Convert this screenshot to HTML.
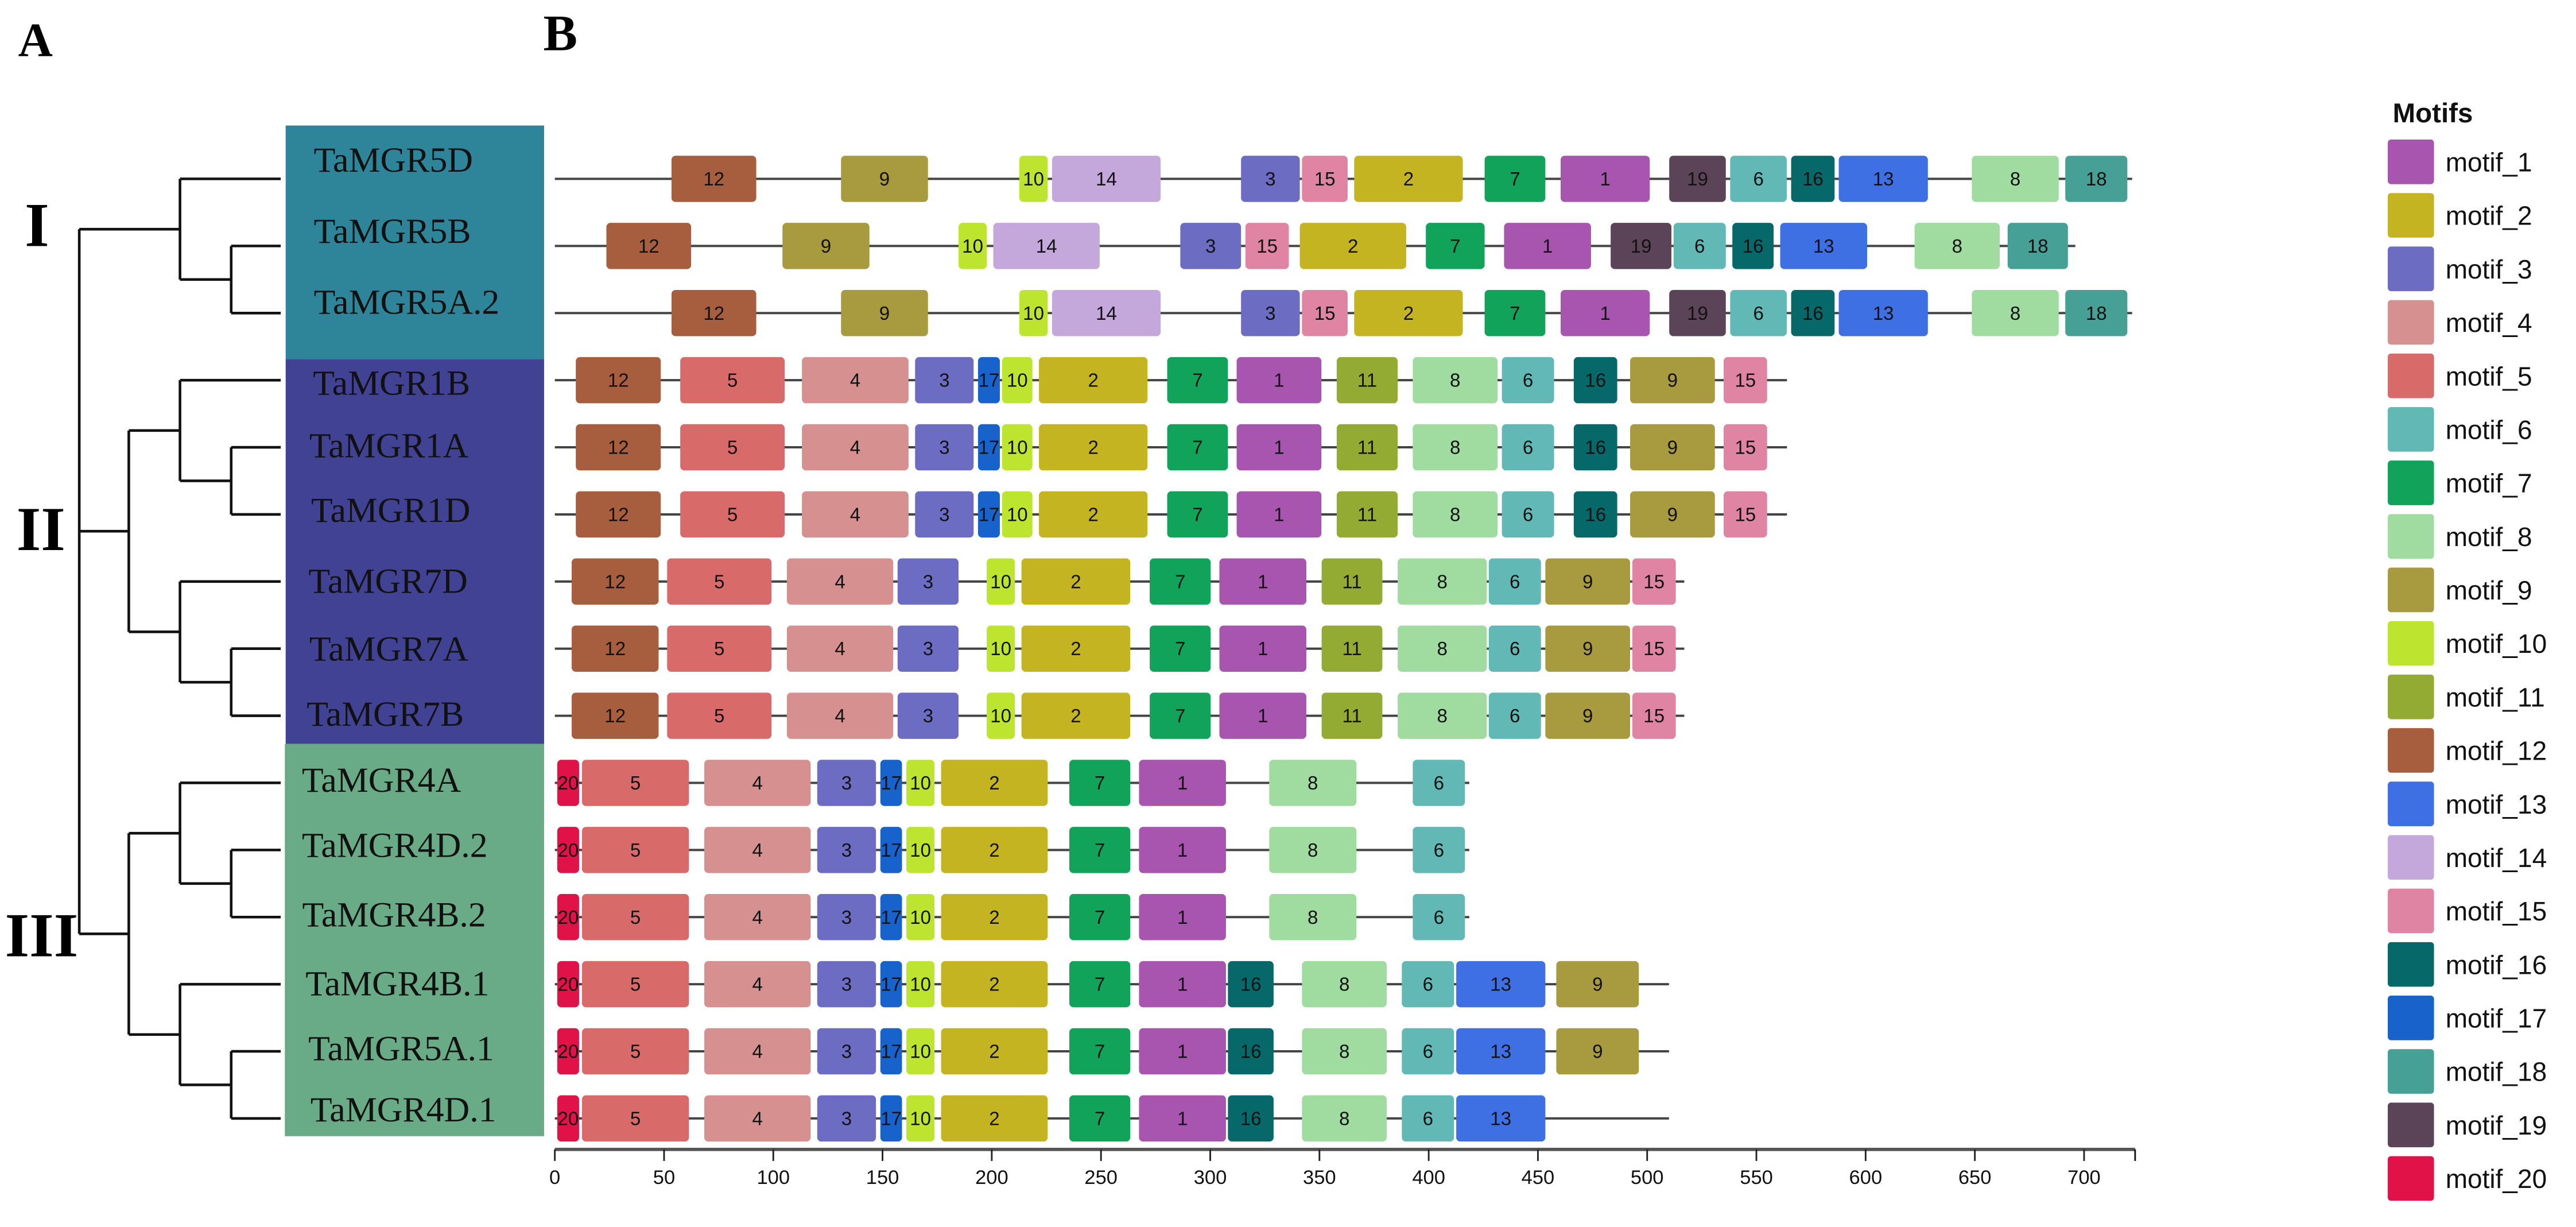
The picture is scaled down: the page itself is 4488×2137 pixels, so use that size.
<!DOCTYPE html>
<html><head><meta charset="utf-8"><style>
html,body{margin:0;padding:0;background:#fff;}
svg{display:block;}
</style></head><body>
<svg id="chart" width="4488" height="2137" viewBox="0 0 1560 743" preserveAspectRatio="none" xmlns="http://www.w3.org/2000/svg">
<text x="11" y="34" font-family="Liberation Serif, serif" font-weight="bold" font-size="29">A</text>
<text x="329" y="30.5" font-family="Liberation Serif, serif" font-weight="bold" font-size="31">B</text>
<rect x="173" y="76" width="156.5" height="141.5" fill="#2e8599"/>
<rect x="173" y="217.5" width="156.5" height="233" fill="#414294"/>
<rect x="172.5" y="450.5" width="157" height="237.5" fill="#6aab87"/>
<text x="15" y="149" font-family="Liberation Serif, serif" font-weight="bold" font-size="38">I</text>
<text x="10" y="333" font-family="Liberation Serif, serif" font-weight="bold" font-size="38">II</text>
<text x="3" y="579" font-family="Liberation Serif, serif" font-weight="bold" font-size="38">III</text>
<g id="tree" stroke="#111" stroke-width="1.6" fill="none"></g>
<g id="rows"></g>
<g id="axis"></g>
<g id="legend"></g>
</svg>
<script>
const geneNames = ["TaMGR5D","TaMGR5B","TaMGR5A.2","TaMGR1B","TaMGR1A","TaMGR1D","TaMGR7D","TaMGR7A","TaMGR7B","TaMGR4A","TaMGR4D.2","TaMGR4B.2","TaMGR4B.1","TaMGR5A.1","TaMGR4D.1"];
const geneLengths = [722,696,722,564,564,564,517,517,517,418.6,418.6,418.6,510,510,510];
const motifsI = [[12,53.4,92.2],[9,131,170.8],[10,212.6,225.6],[14,227.6,277.3],[3,314.1,341],[15,342,362.9],[2,365.9,415.6],[7,425.6,453.4],[1,460.4,501.2],[19,510.1,536],[6,538,563.9],[16,565.9,585.8],[13,587.7,628.5],[8,648.6,688.4],[18,691.4,719.8]];
const motifs5B = [[12,23.6,62.4],[9,104.2,144],[10,184.8,197.7],[14,200.7,249.4],[3,286.3,314.1],[15,316.1,336],[2,341,389.7],[7,398.7,425.6],[1,434.5,474.3],[19,483.3,511.1],[6,512.1,536],[16,539,557.9],[13,560.9,600.7],[8,622.4,661.4],[18,665,692.6]];
const motifsMGR1 = [[12,9.6,48.5],[5,57.4,105.2],[4,113.1,161.9],[3,164.9,191.7],[17,193.7,203.7],[10,204.7,218.6],[2,221.6,271.3],[7,280.3,308.1],[1,312.1,350.9],[11,357.9,385.8],[8,392.7,431.5],[6,433.5,457.4],[16,466.4,486.3],[9,492.2,531],[15,535,554.9]];
const motifsMGR7 = [[12,7.7,47.5],[5,51.4,99.2],[4,106.2,154.9],[3,156.9,184.8],[10,197.7,210.6],[2,213.6,263.4],[7,272.3,300.2],[1,304.2,344],[11,351,378.8],[8,385.8,426.6],[6,427.5,451.4],[9,453.4,492.2],[15,493.2,513.1]];
const motifsMGR4a = [[20,1.1,11.1],[5,12.4,61.4],[4,68.4,117.1],[3,120.1,147],[17,149,158.9],[10,160.9,173.8],[2,176.8,225.6],[7,235.5,263.4],[1,267.4,307.2],[8,327,366.9],[6,392.7,416.6]];
const motifsMGR4b = [[20,1.1,11.1],[5,12.4,61.4],[4,68.4,117.1],[3,120.1,147],[17,149,158.9],[10,160.9,173.8],[2,176.8,225.6],[7,235.5,263.4],[1,267.4,307.2],[16,308.1,329],[8,342,380.8],[6,387.7,411.6],[13,412.6,453.4],[9,458.4,496.2]];
const motifsMGR4D1 = [[20,1.1,11.1],[5,12.4,61.4],[4,68.4,117.1],[3,120.1,147],[17,149,158.9],[10,160.9,173.8],[2,176.8,225.6],[7,235.5,263.4],[1,267.4,307.2],[16,308.1,329],[8,342,380.8],[6,387.7,411.6],[13,412.6,453.4]];
const rowMotifs = [motifsI,motifs5B,motifsI,motifsMGR1,motifsMGR1,motifsMGR1,motifsMGR7,motifsMGR7,motifsMGR7,motifsMGR4a,motifsMGR4a,motifsMGR4a,motifsMGR4b,motifsMGR4b,motifsMGR4D1];
const xTicks = [0,50,100,150,200,250,300,350,400,450,500,550,600,650,700];
const motifColors = ["#a855b0","#c4b422","#6b6cc2","#d69090","#d96a6a","#62b8b5","#12a35b","#a0dca0","#a89a3e","#bde52f","#93ab33","#a65e3f","#3e6fe3","#c4a8dc","#e084a4","#066868","#1862cc","#47a096","#5c4458","#e01248"];
const legendLabels = ["motif_1","motif_2","motif_3","motif_4","motif_5","motif_6","motif_7","motif_8","motif_9","motif_10","motif_11","motif_12","motif_13","motif_14","motif_15","motif_16","motif_17","motif_18","motif_19","motif_20"];

const NS="http://www.w3.org/2000/svg";
const X = v => 336 + v*1.323;
const rowY = i => 108.3 + i*40.64;
function mk(tag, attrs, parent){const e=document.createElementNS(NS,tag);for(const k in attrs)e.setAttribute(k,attrs[k]);parent.appendChild(e);return e;}

const tree=document.getElementById('tree');
const segs=[];
function H(x1,x2,y){segs.push(`M${x1},${y}H${x2}`);}
function V(x,y1,y2){segs.push(`M${x},${y1}V${y2}`);}
const ly=[0,1,2,3,4,5,6,7,8,9,10,11,12,13,14].map(rowY);
H(109,170,ly[0]); H(140,170,ly[1]); H(140,170,ly[2]); V(140,ly[1],ly[2]);
const m12=(ly[1]+ly[2])/2; H(109,140,m12); V(109,ly[0],m12);
const gI=(ly[0]+m12)/2; H(48,109,gI);
function trio(a,b,c){H(109,170,a);H(140,170,b);H(140,170,c);V(140,b,c);const m=(b+c)/2;H(109,140,m);V(109,a,m);return (a+m)/2;}
const c1=trio(ly[3],ly[4],ly[5]); const c7=trio(ly[6],ly[7],ly[8]);
H(78,109,c1);H(78,109,c7);V(78,c1,c7); const gII=(c1+c7)/2; H(48,78,gII);
const c4a=trio(ly[9],ly[10],ly[11]); const c4b=trio(ly[12],ly[13],ly[14]);
H(78,109,c4a);H(78,109,c4b);V(78,c4a,c4b); const gIII=(c4a+c4b)/2; H(48,78,gIII);
V(48,gI,gIII);
const tp=mk('path',{d:segs.join('')},tree);



const rows=document.getElementById('rows');
const labelX=[190,190,190,189.5,187.3,188.4,186.8,187.3,185.7,182.8,182.8,183,185,186.7,188];
const labelBase=[104,147,190,239,277,316,359,400,439.5,479.5,519,561,602.7,642,679];
geneNames.forEach((name,i)=>{
  const y=rowY(i);
  const g=mk('g',{},rows);
  
  
  const t=mk('text',{x:labelX[i],y:labelBase[i],'font-family':'Liberation Serif, serif','font-size':'21.5',fill:'#111'},g);
  t.textContent=name;
  
  
  const ln=mk('line',{x1:X(0),x2:X(geneLengths[i]),y1:y,y2:y,stroke:'#444','stroke-width':'1.4'},g);
  
  
  rowMotifs[i].forEach(m=>{
    const [id,s,e]=m;
    const r=mk('rect',{x:X(s),y:y-14,width:X(e)-X(s),height:28,rx:2.5,fill:motifColors[id-1]},g);
    
    
    const tt=mk('text',{x:(X(s)+X(e))/2,y:y+4,'text-anchor':'middle','font-family':'Liberation Sans, sans-serif','font-size':'11.5',fill:'#111'},g);
    tt.textContent=String(id);
    
    
  });
});

const axis=document.getElementById('axis');
const al=mk('line',{x1:X(0),x2:1293,y1:696,y2:696,stroke:'#555','stroke-width':'2'},axis);


mk('line',{x1:1293,x2:1293,y1:696,y2:703,stroke:'#111','stroke-width':'1'},axis);
xTicks.forEach(v=>{
  const tk=mk('line',{x1:X(v),x2:X(v),y1:696,y2:703,stroke:'#222','stroke-width':'1'},axis);
  
  
  const tl=mk('text',{x:X(v),y:717,'text-anchor':'middle','font-family':'Liberation Sans, sans-serif','font-size':'12',fill:'#111'},axis);
  tl.textContent=String(v);
  
  
});

const legend=document.getElementById('legend');


const lt=mk('text',{x:1449,y:74,'font-family':'Liberation Sans, sans-serif','font-weight':'bold','font-size':'16.5',fill:'#111'},legend);
lt.textContent='Motifs';


legendLabels.forEach((lab,i)=>{
  const top=84.5+i*32.4;
  const sw=mk('rect',{x:1446,y:top,width:28,height:27,rx:2,fill:motifColors[i]},legend);
  
  
  const tx=mk('text',{x:1481,y:top+19.3,'font-family':'Liberation Sans, sans-serif','font-size':'16',fill:'#111'},legend);
  tx.textContent=lab;
  
  
});
</script>
</body></html>
